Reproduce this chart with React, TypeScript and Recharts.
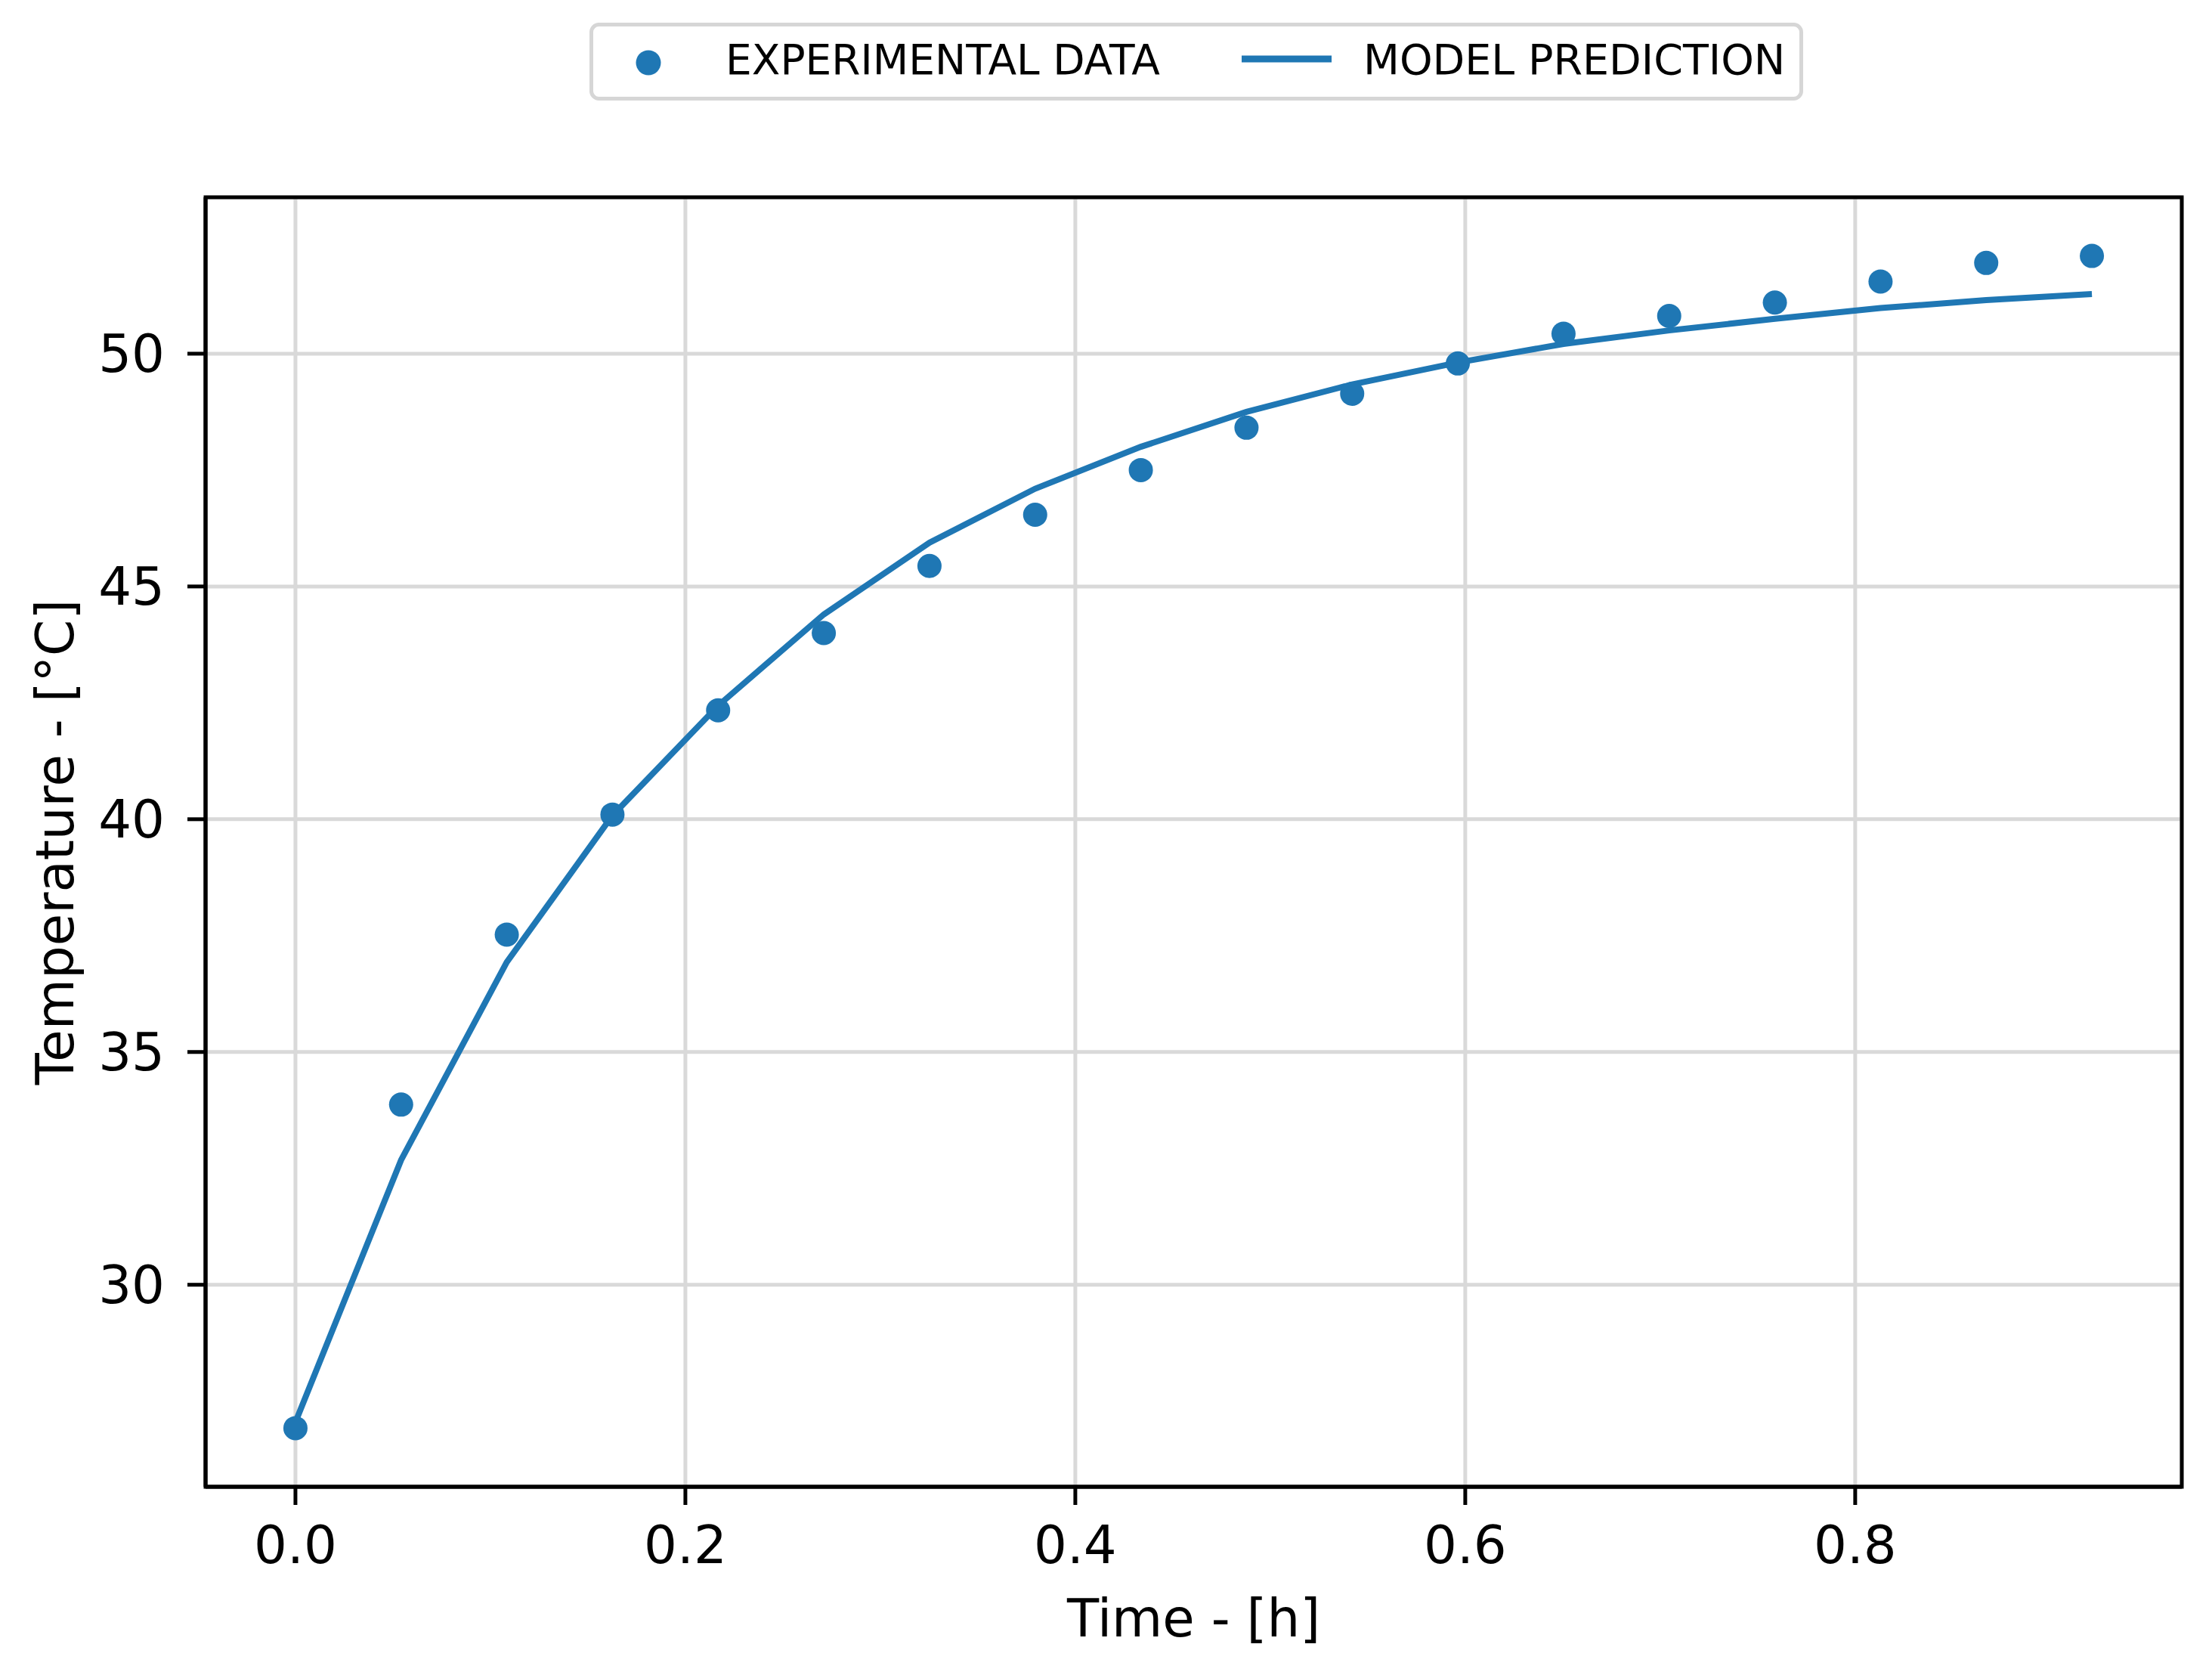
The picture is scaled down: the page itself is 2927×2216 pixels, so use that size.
import React from 'react';
import {
  ComposedChart,
  Line,
  Scatter,
  XAxis,
  YAxis,
  CartesianGrid,
  Legend,
  ReferenceArea,
} from 'recharts';

const timeH = [
  0, 0.0542, 0.1084, 0.1626, 0.2168, 0.271, 0.3252, 0.3794, 0.4336, 0.4878, 0.542, 0.5962,
  0.6504, 0.7046, 0.7588, 0.813, 0.8672, 0.9214,
];
const measuredC = [
  26.92, 33.87, 37.52, 40.1, 42.34, 44.0, 45.44, 46.54, 47.5, 48.41, 49.14, 49.79, 50.43, 50.81,
  51.1, 51.55, 51.95, 52.1,
];
const modelC = [
  27.05, 32.68, 36.93, 40.08, 42.44, 44.4, 45.94, 47.1, 48.0, 48.75, 49.34, 49.81, 50.21, 50.5,
  50.75, 50.98, 51.15, 51.28,
];

const xTicks = [0, 0.2, 0.4, 0.6, 0.8];
const yTicks = [30, 35, 40, 45, 50];
const xDomain = [-0.0461, 0.9675];
const yDomain = [25.66, 53.36];

const BLUE = '#1f77b4';
const FONT = '"DejaVu Sans", Verdana, sans-serif';

const data = timeH.map((t, i) => ({ t, measured: measuredC[i], model: modelC[i] }));

function Dot(props: any) {
  const { cx, cy } = props;
  if (cx == null || cy == null) return null;
  return <circle cx={cx} cy={cy} r={16} fill={BLUE} />;
}

function LegendBox(props: any) {
  const items = props.payload || [];
  const scatter = items.find((p: any) => p.type === 'circle') || items[0];
  const line = items.find((p: any) => p.type === 'line') || items[1];
  return (
    <svg width={1606} height={103} style={{ display: 'block' }}>
      <rect x={2.5} y={2.5} width={1601} height={98} rx={10} fill="#fff" stroke="#d6d6d6" strokeWidth={5} />
      <circle cx={78} cy={53} r={16.5} fill={BLUE} />
      <text x={180} y={68} fontSize={55} fontFamily={FONT} fill="#000">
        {scatter ? scatter.value : ''}
      </text>
      <line x1={863} x2={982} y1={48} y2={48} stroke={BLUE} strokeWidth={9} />
      <text x={1024} y={68} fontSize={55.5} fontFamily={FONT} fill="#000">
        {line ? line.value : ''}
      </text>
    </svg>
  );
}

function XLabel(props: any) {
  const { viewBox } = props;
  const cx = viewBox.x + viewBox.width / 2;
  return (
    <text x={cx} y={2165} textAnchor="middle" fontSize={69} fontFamily={FONT} fill="#000">
      Time - [h]
    </text>
  );
}

function YLabel(props: any) {
  const { viewBox } = props;
  const cy = viewBox.y + viewBox.height / 2;
  const x = 97;
  return (
    <text
      x={x}
      y={cy}
      transform={`rotate(-90, ${x}, ${cy})`}
      textAnchor="middle"
      fontSize={69}
      fontFamily={FONT}
      fill="#000"
    >
      Temperature - [°C]
    </text>
  );
}

export default function App() {
  const tickStyle = { fontSize: 69, fontFamily: FONT, fill: '#000' };
  return (
    <div style={{ position: 'absolute', left: 0, top: 0, background: '#fff' }}>
      <ComposedChart
        width={2927}
        height={2216}
        data={data}
        margin={{ top: 261, right: 40, bottom: 0, left: 0 }}
      >
        <CartesianGrid stroke="#d9d9d9" strokeWidth={5} />
        <XAxis
          dataKey="t"
          type="number"
          domain={xDomain}
          ticks={xTicks}
          allowDataOverflow
          height={249}
          tickSize={24}
          tickMargin={28}
          tickLine={{ stroke: '#000', strokeWidth: 5 }}
          axisLine={{ stroke: '#000', strokeWidth: 5 }}
          tick={tickStyle}
          tickFormatter={(v: number) => v.toFixed(1)}
          label={<XLabel />}
        />
        <YAxis
          type="number"
          domain={yDomain}
          ticks={yTicks}
          allowDataOverflow
          width={272}
          tickSize={24}
          tickMargin={30}
          tickLine={{ stroke: '#000', strokeWidth: 5 }}
          axisLine={{ stroke: '#000', strokeWidth: 5 }}
          tick={tickStyle}
          label={<YLabel />}
        />
        <Scatter
          name="EXPERIMENTAL DATA"
          dataKey="measured"
          fill={BLUE}
          legendType="circle"
          shape={<Dot />}
          isAnimationActive={false}
        />
        <Line
          name="MODEL PREDICTION"
          dataKey="model"
          type="linear"
          stroke={BLUE}
          strokeWidth={8}
          dot={false}
          activeDot={false}
          legendType="line"
          isAnimationActive={false}
        />
        <ReferenceArea
          x1={xDomain[0]}
          x2={xDomain[1]}
          y1={yDomain[0]}
          y2={yDomain[1]}
          fill="none"
          stroke="#000"
          strokeWidth={5}
          ifOverflow="visible"
        />
        <Legend
          layout="horizontal"
          verticalAlign="middle"
          align="center"
          content={<LegendBox />}
          wrapperStyle={{ left: 780, top: 30, width: 1606, height: 103 }}
        />
      </ComposedChart>
    </div>
  );
}
